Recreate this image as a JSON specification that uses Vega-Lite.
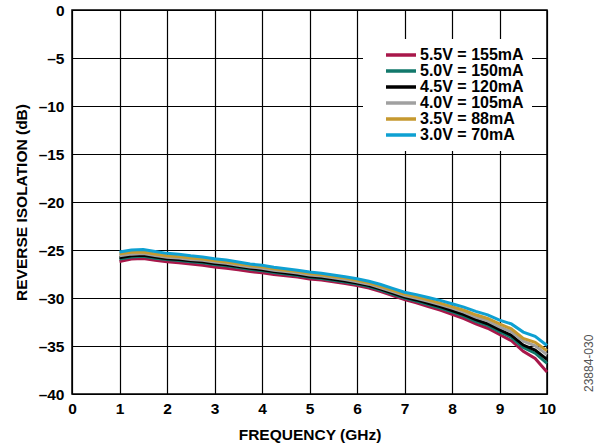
{
  "$schema": "https://vega.github.io/schema/vega-lite/v6.json",
  "width": 475,
  "height": 384,
  "autosize": {"type": "none"},
  "padding": {"left": 72, "top": 10, "right": 50, "bottom": 52},
  "background": "white",
  "title": {"text": "23884-030", "orient": "right", "anchor": "end", "frame": "group", "angle": -90, "fontSize": 12, "fontWeight": "normal", "font": "Liberation Sans", "color": "#555555", "offset": 21, "align": "left", "dx": 2, "baseline": "middle"},
  "config": {
    "font": "Liberation Sans",
    "view": {"stroke": "black", "strokeWidth": 1.5},
    "axis": {"labelFont": "Liberation Sans", "labelFontWeight": "bold", "labelFontSize": 15.5, "labelColor": "black", "titleFont": "Liberation Sans", "titleFontWeight": "bold", "titleFontSize": 15.5, "titleColor": "black", "gridColor": "black", "gridOpacity": 1, "gridWidth": 1.2, "ticks": false, "domain": false}
  },
  "data": {"values": [
    {"f":1.00,"v":-26.20,"s":"5.5V = 155mA"},{"f":1.25,"v":-25.95,"s":"5.5V = 155mA"},{"f":1.50,"v":-25.88,"s":"5.5V = 155mA"},{"f":1.75,"v":-26.06,"s":"5.5V = 155mA"},{"f":2.00,"v":-26.22,"s":"5.5V = 155mA"},{"f":2.25,"v":-26.32,"s":"5.5V = 155mA"},{"f":2.50,"v":-26.47,"s":"5.5V = 155mA"},{"f":2.75,"v":-26.59,"s":"5.5V = 155mA"},{"f":3.00,"v":-26.77,"s":"5.5V = 155mA"},{"f":3.25,"v":-26.90,"s":"5.5V = 155mA"},{"f":3.50,"v":-27.07,"s":"5.5V = 155mA"},{"f":3.75,"v":-27.25,"s":"5.5V = 155mA"},{"f":4.00,"v":-27.37,"s":"5.5V = 155mA"},{"f":4.25,"v":-27.55,"s":"5.5V = 155mA"},{"f":4.50,"v":-27.69,"s":"5.5V = 155mA"},{"f":4.75,"v":-27.82,"s":"5.5V = 155mA"},{"f":5.00,"v":-28.01,"s":"5.5V = 155mA"},{"f":5.25,"v":-28.13,"s":"5.5V = 155mA"},{"f":5.50,"v":-28.31,"s":"5.5V = 155mA"},{"f":5.75,"v":-28.49,"s":"5.5V = 155mA"},{"f":6.00,"v":-28.71,"s":"5.5V = 155mA"},{"f":6.25,"v":-28.97,"s":"5.5V = 155mA"},{"f":6.50,"v":-29.34,"s":"5.5V = 155mA"},{"f":6.75,"v":-29.75,"s":"5.5V = 155mA"},{"f":7.00,"v":-30.15,"s":"5.5V = 155mA"},{"f":7.25,"v":-30.49,"s":"5.5V = 155mA"},{"f":7.50,"v":-30.88,"s":"5.5V = 155mA"},{"f":7.75,"v":-31.26,"s":"5.5V = 155mA"},{"f":8.00,"v":-31.70,"s":"5.5V = 155mA"},{"f":8.25,"v":-32.15,"s":"5.5V = 155mA"},{"f":8.50,"v":-32.70,"s":"5.5V = 155mA"},{"f":8.75,"v":-33.15,"s":"5.5V = 155mA"},{"f":9.00,"v":-33.80,"s":"5.5V = 155mA"},{"f":9.25,"v":-34.45,"s":"5.5V = 155mA"},{"f":9.50,"v":-35.55,"s":"5.5V = 155mA"},{"f":9.75,"v":-36.30,"s":"5.5V = 155mA"},{"f":10.00,"v":-37.70,"s":"5.5V = 155mA"},
    {"f":1.00,"v":-25.95,"s":"5.0V = 150mA"},{"f":1.25,"v":-25.73,"s":"5.0V = 150mA"},{"f":1.50,"v":-25.66,"s":"5.0V = 150mA"},{"f":1.75,"v":-25.85,"s":"5.0V = 150mA"},{"f":2.00,"v":-26.00,"s":"5.0V = 150mA"},{"f":2.25,"v":-26.09,"s":"5.0V = 150mA"},{"f":2.50,"v":-26.23,"s":"5.0V = 150mA"},{"f":2.75,"v":-26.33,"s":"5.0V = 150mA"},{"f":3.00,"v":-26.50,"s":"5.0V = 150mA"},{"f":3.25,"v":-26.64,"s":"5.0V = 150mA"},{"f":3.50,"v":-26.83,"s":"5.0V = 150mA"},{"f":3.75,"v":-27.01,"s":"5.0V = 150mA"},{"f":4.00,"v":-27.15,"s":"5.0V = 150mA"},{"f":4.25,"v":-27.35,"s":"5.0V = 150mA"},{"f":4.50,"v":-27.50,"s":"5.0V = 150mA"},{"f":4.75,"v":-27.65,"s":"5.0V = 150mA"},{"f":5.00,"v":-27.85,"s":"5.0V = 150mA"},{"f":5.25,"v":-27.97,"s":"5.0V = 150mA"},{"f":5.50,"v":-28.15,"s":"5.0V = 150mA"},{"f":5.75,"v":-28.33,"s":"5.0V = 150mA"},{"f":6.00,"v":-28.55,"s":"5.0V = 150mA"},{"f":6.25,"v":-28.81,"s":"5.0V = 150mA"},{"f":6.50,"v":-29.18,"s":"5.0V = 150mA"},{"f":6.75,"v":-29.59,"s":"5.0V = 150mA"},{"f":7.00,"v":-30.00,"s":"5.0V = 150mA"},{"f":7.25,"v":-30.31,"s":"5.0V = 150mA"},{"f":7.50,"v":-30.68,"s":"5.0V = 150mA"},{"f":7.75,"v":-31.04,"s":"5.0V = 150mA"},{"f":8.00,"v":-31.45,"s":"5.0V = 150mA"},{"f":8.25,"v":-31.89,"s":"5.0V = 150mA"},{"f":8.50,"v":-32.43,"s":"5.0V = 150mA"},{"f":8.75,"v":-32.86,"s":"5.0V = 150mA"},{"f":9.00,"v":-33.50,"s":"5.0V = 150mA"},{"f":9.25,"v":-34.10,"s":"5.0V = 150mA"},{"f":9.50,"v":-35.15,"s":"5.0V = 150mA"},{"f":9.75,"v":-35.75,"s":"5.0V = 150mA"},{"f":10.00,"v":-36.80,"s":"5.0V = 150mA"},
    {"f":1.00,"v":-25.80,"s":"4.5V = 120mA"},{"f":1.25,"v":-25.61,"s":"4.5V = 120mA"},{"f":1.50,"v":-25.55,"s":"4.5V = 120mA"},{"f":1.75,"v":-25.74,"s":"4.5V = 120mA"},{"f":2.00,"v":-25.90,"s":"4.5V = 120mA"},{"f":2.25,"v":-25.99,"s":"4.5V = 120mA"},{"f":2.50,"v":-26.13,"s":"4.5V = 120mA"},{"f":2.75,"v":-26.23,"s":"4.5V = 120mA"},{"f":3.00,"v":-26.40,"s":"4.5V = 120mA"},{"f":3.25,"v":-26.54,"s":"4.5V = 120mA"},{"f":3.50,"v":-26.73,"s":"4.5V = 120mA"},{"f":3.75,"v":-26.91,"s":"4.5V = 120mA"},{"f":4.00,"v":-27.05,"s":"4.5V = 120mA"},{"f":4.25,"v":-27.25,"s":"4.5V = 120mA"},{"f":4.50,"v":-27.40,"s":"4.5V = 120mA"},{"f":4.75,"v":-27.55,"s":"4.5V = 120mA"},{"f":5.00,"v":-27.75,"s":"4.5V = 120mA"},{"f":5.25,"v":-27.87,"s":"4.5V = 120mA"},{"f":5.50,"v":-28.05,"s":"4.5V = 120mA"},{"f":5.75,"v":-28.23,"s":"4.5V = 120mA"},{"f":6.00,"v":-28.45,"s":"4.5V = 120mA"},{"f":6.25,"v":-28.71,"s":"4.5V = 120mA"},{"f":6.50,"v":-29.08,"s":"4.5V = 120mA"},{"f":6.75,"v":-29.49,"s":"4.5V = 120mA"},{"f":7.00,"v":-29.90,"s":"4.5V = 120mA"},{"f":7.25,"v":-30.20,"s":"4.5V = 120mA"},{"f":7.50,"v":-30.55,"s":"4.5V = 120mA"},{"f":7.75,"v":-30.90,"s":"4.5V = 120mA"},{"f":8.00,"v":-31.30,"s":"4.5V = 120mA"},{"f":8.25,"v":-31.73,"s":"4.5V = 120mA"},{"f":8.50,"v":-32.25,"s":"4.5V = 120mA"},{"f":8.75,"v":-32.68,"s":"4.5V = 120mA"},{"f":9.00,"v":-33.30,"s":"4.5V = 120mA"},{"f":9.25,"v":-33.88,"s":"4.5V = 120mA"},{"f":9.50,"v":-34.90,"s":"4.5V = 120mA"},{"f":9.75,"v":-35.43,"s":"4.5V = 120mA"},{"f":10.00,"v":-36.40,"s":"4.5V = 120mA"},
    {"f":1.00,"v":-25.60,"s":"4.0V = 105mA"},{"f":1.25,"v":-25.43,"s":"4.0V = 105mA"},{"f":1.50,"v":-25.37,"s":"4.0V = 105mA"},{"f":1.75,"v":-25.58,"s":"4.0V = 105mA"},{"f":2.00,"v":-25.75,"s":"4.0V = 105mA"},{"f":2.25,"v":-25.84,"s":"4.0V = 105mA"},{"f":2.50,"v":-25.98,"s":"4.0V = 105mA"},{"f":2.75,"v":-26.08,"s":"4.0V = 105mA"},{"f":3.00,"v":-26.25,"s":"4.0V = 105mA"},{"f":3.25,"v":-26.39,"s":"4.0V = 105mA"},{"f":3.50,"v":-26.58,"s":"4.0V = 105mA"},{"f":3.75,"v":-26.76,"s":"4.0V = 105mA"},{"f":4.00,"v":-26.90,"s":"4.0V = 105mA"},{"f":4.25,"v":-27.10,"s":"4.0V = 105mA"},{"f":4.50,"v":-27.25,"s":"4.0V = 105mA"},{"f":4.75,"v":-27.40,"s":"4.0V = 105mA"},{"f":5.00,"v":-27.60,"s":"4.0V = 105mA"},{"f":5.25,"v":-27.72,"s":"4.0V = 105mA"},{"f":5.50,"v":-27.90,"s":"4.0V = 105mA"},{"f":5.75,"v":-28.08,"s":"4.0V = 105mA"},{"f":6.00,"v":-28.30,"s":"4.0V = 105mA"},{"f":6.25,"v":-28.56,"s":"4.0V = 105mA"},{"f":6.50,"v":-28.93,"s":"4.0V = 105mA"},{"f":6.75,"v":-29.34,"s":"4.0V = 105mA"},{"f":7.00,"v":-29.75,"s":"4.0V = 105mA"},{"f":7.25,"v":-30.03,"s":"4.0V = 105mA"},{"f":7.50,"v":-30.35,"s":"4.0V = 105mA"},{"f":7.75,"v":-30.68,"s":"4.0V = 105mA"},{"f":8.00,"v":-31.05,"s":"4.0V = 105mA"},{"f":8.25,"v":-31.46,"s":"4.0V = 105mA"},{"f":8.50,"v":-31.98,"s":"4.0V = 105mA"},{"f":8.75,"v":-32.39,"s":"4.0V = 105mA"},{"f":9.00,"v":-33.00,"s":"4.0V = 105mA"},{"f":9.25,"v":-33.53,"s":"4.0V = 105mA"},{"f":9.50,"v":-34.50,"s":"4.0V = 105mA"},{"f":9.75,"v":-34.98,"s":"4.0V = 105mA"},{"f":10.00,"v":-35.90,"s":"4.0V = 105mA"},
    {"f":1.00,"v":-25.40,"s":"3.5V = 88mA"},{"f":1.25,"v":-25.24,"s":"3.5V = 88mA"},{"f":1.50,"v":-25.20,"s":"3.5V = 88mA"},{"f":1.75,"v":-25.41,"s":"3.5V = 88mA"},{"f":2.00,"v":-25.60,"s":"3.5V = 88mA"},{"f":2.25,"v":-25.69,"s":"3.5V = 88mA"},{"f":2.50,"v":-25.83,"s":"3.5V = 88mA"},{"f":2.75,"v":-25.93,"s":"3.5V = 88mA"},{"f":3.00,"v":-26.10,"s":"3.5V = 88mA"},{"f":3.25,"v":-26.24,"s":"3.5V = 88mA"},{"f":3.50,"v":-26.43,"s":"3.5V = 88mA"},{"f":3.75,"v":-26.61,"s":"3.5V = 88mA"},{"f":4.00,"v":-26.75,"s":"3.5V = 88mA"},{"f":4.25,"v":-26.95,"s":"3.5V = 88mA"},{"f":4.50,"v":-27.10,"s":"3.5V = 88mA"},{"f":4.75,"v":-27.25,"s":"3.5V = 88mA"},{"f":5.00,"v":-27.45,"s":"3.5V = 88mA"},{"f":5.25,"v":-27.57,"s":"3.5V = 88mA"},{"f":5.50,"v":-27.75,"s":"3.5V = 88mA"},{"f":5.75,"v":-27.93,"s":"3.5V = 88mA"},{"f":6.00,"v":-28.15,"s":"3.5V = 88mA"},{"f":6.25,"v":-28.41,"s":"3.5V = 88mA"},{"f":6.50,"v":-28.78,"s":"3.5V = 88mA"},{"f":6.75,"v":-29.19,"s":"3.5V = 88mA"},{"f":7.00,"v":-29.60,"s":"3.5V = 88mA"},{"f":7.25,"v":-29.88,"s":"3.5V = 88mA"},{"f":7.50,"v":-30.20,"s":"3.5V = 88mA"},{"f":7.75,"v":-30.53,"s":"3.5V = 88mA"},{"f":8.00,"v":-30.90,"s":"3.5V = 88mA"},{"f":8.25,"v":-31.28,"s":"3.5V = 88mA"},{"f":8.50,"v":-31.75,"s":"3.5V = 88mA"},{"f":8.75,"v":-32.13,"s":"3.5V = 88mA"},{"f":9.00,"v":-32.70,"s":"3.5V = 88mA"},{"f":9.25,"v":-33.22,"s":"3.5V = 88mA"},{"f":9.50,"v":-34.20,"s":"3.5V = 88mA"},{"f":9.75,"v":-34.62,"s":"3.5V = 88mA"},{"f":10.00,"v":-35.50,"s":"3.5V = 88mA"},
    {"f":1.00,"v":-25.20,"s":"3.0V = 70mA"},{"f":1.25,"v":-25.00,"s":"3.0V = 70mA"},{"f":1.50,"v":-24.95,"s":"3.0V = 70mA"},{"f":1.75,"v":-25.15,"s":"3.0V = 70mA"},{"f":2.00,"v":-25.35,"s":"3.0V = 70mA"},{"f":2.25,"v":-25.45,"s":"3.0V = 70mA"},{"f":2.50,"v":-25.60,"s":"3.0V = 70mA"},{"f":2.75,"v":-25.72,"s":"3.0V = 70mA"},{"f":3.00,"v":-25.90,"s":"3.0V = 70mA"},{"f":3.25,"v":-26.05,"s":"3.0V = 70mA"},{"f":3.50,"v":-26.25,"s":"3.0V = 70mA"},{"f":3.75,"v":-26.45,"s":"3.0V = 70mA"},{"f":4.00,"v":-26.60,"s":"3.0V = 70mA"},{"f":4.25,"v":-26.80,"s":"3.0V = 70mA"},{"f":4.50,"v":-26.95,"s":"3.0V = 70mA"},{"f":4.75,"v":-27.10,"s":"3.0V = 70mA"},{"f":5.00,"v":-27.30,"s":"3.0V = 70mA"},{"f":5.25,"v":-27.42,"s":"3.0V = 70mA"},{"f":5.50,"v":-27.60,"s":"3.0V = 70mA"},{"f":5.75,"v":-27.78,"s":"3.0V = 70mA"},{"f":6.00,"v":-28.00,"s":"3.0V = 70mA"},{"f":6.25,"v":-28.25,"s":"3.0V = 70mA"},{"f":6.50,"v":-28.60,"s":"3.0V = 70mA"},{"f":6.75,"v":-29.00,"s":"3.0V = 70mA"},{"f":7.00,"v":-29.40,"s":"3.0V = 70mA"},{"f":7.25,"v":-29.65,"s":"3.0V = 70mA"},{"f":7.50,"v":-29.95,"s":"3.0V = 70mA"},{"f":7.75,"v":-30.25,"s":"3.0V = 70mA"},{"f":8.00,"v":-30.60,"s":"3.0V = 70mA"},{"f":8.25,"v":-30.95,"s":"3.0V = 70mA"},{"f":8.50,"v":-31.40,"s":"3.0V = 70mA"},{"f":8.75,"v":-31.75,"s":"3.0V = 70mA"},{"f":9.00,"v":-32.30,"s":"3.0V = 70mA"},{"f":9.25,"v":-32.70,"s":"3.0V = 70mA"},{"f":9.50,"v":-33.55,"s":"3.0V = 70mA"},{"f":9.75,"v":-34.00,"s":"3.0V = 70mA"},{"f":10.00,"v":-34.95,"s":"3.0V = 70mA"}
  ]},
  "mark": {"type": "line", "strokeWidth": 3, "interpolate": "linear"},
  "encoding": {
    "x": {"field": "f", "type": "quantitative", "scale": {"domain": [0, 10], "nice": false}, "axis": {"values": [0,1,2,3,4,5,6,7,8,9,10], "title": "FREQUENCY (GHz)", "labelPadding": 7, "titleY": 40, "titleBaseline": "middle", "labelFlush": false}},
    "y": {"field": "v", "type": "quantitative", "scale": {"domain": [-40, 0], "nice": false}, "axis": {"values": [0,-5,-10,-15,-20,-25,-30,-35,-40], "labelExpr": "replace(datum.label, '−', '–')", "title": "REVERSE ISOLATION (dB)", "labelPadding": 8, "titleX": -51, "titleBaseline": "middle", "labelFlush": false}},
    "color": {"field": "s", "type": "nominal", "sort": null,
      "scale": {"domain": ["5.5V = 155mA", "5.0V = 150mA", "4.5V = 120mA", "4.0V = 105mA", "3.5V = 88mA", "3.0V = 70mA"], "range": ["#A8174A", "#12786B", "#000000", "#A0A0A0", "#C6992F", "#0EA0D2"]},
      "legend": {"title": null, "orient": "none", "legendX": 291, "legendY": 29, "fillColor": "white", "padding": 8, "symbolType": "M-4,0H4", "symbolStrokeWidth": 3.5, "symbolSize": 56.25, "labelFont": "Liberation Sans", "labelFontWeight": "bold", "labelFontSize": 16, "labelColor": "black", "rowPadding": 0, "labelOffset": 11, "symbolOffset": 22}}
  }
}
